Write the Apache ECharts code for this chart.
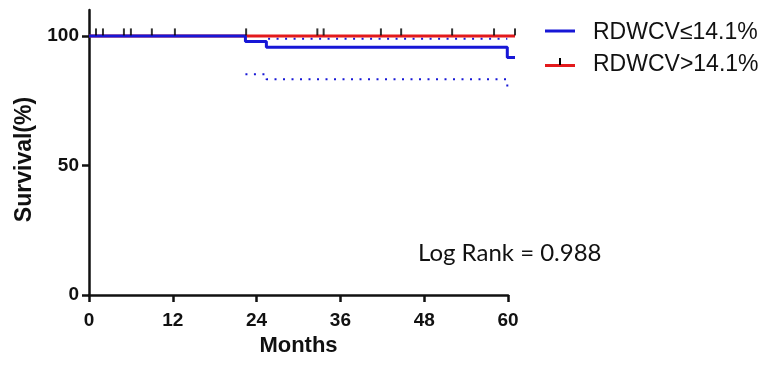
<!DOCTYPE html>
<html>
<head>
<meta charset="utf-8">
<script src="https://cdn.jsdelivr.net/npm/echarts@6/dist/echarts.min.js"></script>
<style>
  html, body { margin: 0; padding: 0; background: #fff; }
  #chart { width: 764px; height: 365px; }
</style>
</head>
<body>
<div id="chart"></div>
<script>
// Kaplan-Meier survival by RDW-CV group
const xTicks = [0, 12, 24, 36, 48, 60];
const yTicks = [0, 50, 100];

// RDWCV <= 14.1%: event times (months) and survival (%) after each step
const lowTimes = [0, 22.4, 25.4, 59.9, 61];
const lowSurv = [100, 97.8, 95.6, 91.7, 91.7];
// 95% confidence band of the RDWCV <= 14.1% curve
const lowUpperTimes = [22.4, 25.4, 59.9];
const lowUpperVals = [100, 98.9, 98.9];
const lowLowerTimes = [22.4, 25.4, 59.9];
const lowLowerVals = [85.2, 83.3, 78.0];
// censored observations, RDWCV <= 14.1%
const lowCensor = [1, 2, 5, 6, 9, 12.3];

// RDWCV > 14.1%: no events
const highTimes = [0, 61];
const highSurv = [100, 100];
const highCensor = [22.5, 32.7, 33.6, 41.8, 44.7, 52, 58, 61];

const BLUE = '#1717d6';
const RED = '#e31a1c';
const INK = '#111';
const FONT = 'Liberation Sans, Arial';

// visible axis ends at 60 months; follow-up runs to 61, so curves use a
// second (hidden) axis with the same scale that reaches 61
const AXIS_END = 60, FOLLOW_END = 61;
const LEFT = 89, RIGHT = 256, TOP = 10, BOTTOM = 70, W = 764;
const plotW = W - LEFT - RIGHT;
const extW = plotW * FOLLOW_END / AXIS_END;

const zip = (a, b) => a.map((t, i) => [t, b[i]]);
const censorPts = (times, curveT, curveS) => times.map(t => {
  let v = curveS[0];
  for (let i = 0; i < curveT.length; i++) if (curveT[i] <= t) v = curveS[i];
  return [t, v];
});

const chart = echarts.init(document.getElementById('chart'), null, { renderer: 'canvas' });

const onExt = { xAxisIndex: 1, yAxisIndex: 1 };

const tickSeries = (data) => Object.assign({
  type: 'scatter',
  data: data,
  symbol: 'rect',
  symbolSize: [2, 7],
  symbolOffset: [0, -4],
  itemStyle: { color: '#000' },
  clip: false,
  z: 5,
  silent: true
}, onExt);

const stepSeries = (data, style, z) => Object.assign({
  type: 'line', step: 'end', data: data,
  showSymbol: false, clip: false, z: z,
  lineStyle: style
}, onExt);

chart.setOption({
  animation: false,
  grid: [
    { left: LEFT, right: RIGHT, top: TOP, bottom: BOTTOM },
    { left: LEFT, width: extW, top: TOP, bottom: BOTTOM }
  ],
  xAxis: [{
    type: 'value',
    min: 0, max: AXIS_END, interval: 12,
    name: 'Months',
    nameLocation: 'middle',
    nameGap: 35,
    nameTextStyle: { fontFamily: FONT, fontWeight: 'bold', fontSize: 22, color: INK, verticalAlign: 'top' },
    axisLine: { lineStyle: { color: INK, width: 2.5 } },
    axisTick: { length: 7, lineStyle: { color: INK, width: 2.5 } },
    axisLabel: { margin: 16, fontFamily: FONT, fontWeight: 'bold', fontSize: 19, color: INK,
      customValues: xTicks },
    splitLine: { show: false }
  }, {
    type: 'value', gridIndex: 1, min: 0, max: FOLLOW_END, show: false
  }],
  yAxis: [{
    type: 'value',
    min: 0, max: 110,
    name: 'Survival(%)',
    nameLocation: 'middle',
    nameGap: 52,
    nameRotate: 90,
    nameTextStyle: { fontFamily: FONT, fontWeight: 'bold', fontSize: 23, color: INK, padding: [0, 14, 0, 0] },
    axisLine: { lineStyle: { color: INK, width: 2.5 } },
    axisTick: { length: 7, lineStyle: { color: INK, width: 2.5 }, customValues: yTicks },
    axisLabel: { margin: 10, fontFamily: FONT, fontWeight: 'bold', fontSize: 19, color: INK,
      customValues: yTicks },
    splitLine: { show: false }
  }, {
    type: 'value', gridIndex: 1, min: 0, max: 110, show: false
  }],
  series: [
    Object.assign(stepSeries(zip(highTimes, highSurv), { color: RED, width: 3 }, 2), { name: 'RDWCV>14.1%' }),
    stepSeries(zip(lowUpperTimes, lowUpperVals), { color: BLUE, width: 2, type: [2, 6.5] }, 1),
    stepSeries(zip(lowLowerTimes, lowLowerVals), { color: BLUE, width: 2, type: [2, 6.5] }, 1),
    Object.assign(stepSeries(zip(lowTimes, lowSurv), { color: BLUE, width: 3 }, 3), { name: 'RDWCV≤14.1%' }),
    tickSeries(censorPts(lowCensor, lowTimes, lowSurv)),
    tickSeries(censorPts(highCensor, highTimes, highSurv))
  ],
  graphic: [
    { type: 'line', shape: { x1: 545, y1: 31, x2: 575, y2: 31 }, style: { stroke: BLUE, lineWidth: 3 } },
    { type: 'text', x: 593, y: 33,
      style: { text: 'RDWCV≤14.1%', fontFamily: FONT, fontSize: 23, fill: INK, textVerticalAlign: 'middle' } },
    { type: 'line', shape: { x1: 545, y1: 65.5, x2: 575, y2: 65.5 }, style: { stroke: RED, lineWidth: 3 } },
    { type: 'line', shape: { x1: 560, y1: 58, x2: 560, y2: 65 }, style: { stroke: '#000', lineWidth: 2 } },
    { type: 'text', x: 593, y: 65,
      style: { text: 'RDWCV>14.1%', fontFamily: FONT, fontSize: 23, fill: INK, textVerticalAlign: 'middle' } },
    { type: 'text', x: 418, y: 253,
      style: { text: 'Log Rank = 0.988', fontFamily: 'Lato, Open Sans', fontSize: 24, fill: INK, textVerticalAlign: 'middle' } }
  ]
});
</script>
</body>
</html>
